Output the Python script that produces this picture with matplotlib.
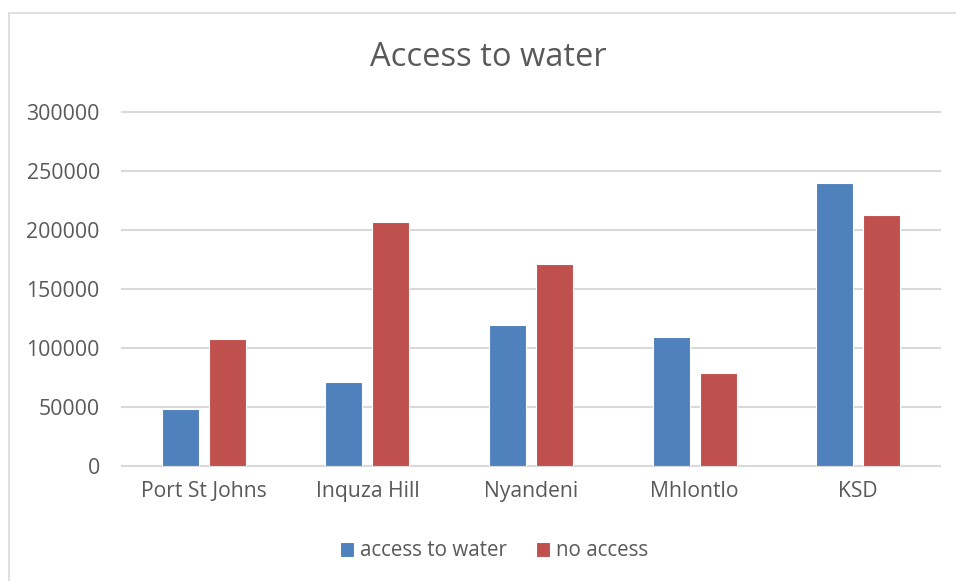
import numpy as np
import matplotlib
matplotlib.use("Agg")
import matplotlib.pyplot as plt
from matplotlib.patches import Rectangle

plt.rcParams['font.family'] = ['Open Sans', 'DejaVu Sans']

# municipalities and household counts
municipalities = ["Port St Johns", "Inquza Hill", "Nyandeni", "Mhlontlo", "KSD"]
access_to_water = [48500, 71500, 119500, 109500, 239500]
no_access = [108000, 207000, 171500, 79000, 212500]

blue = "#4F81BD"
red = "#C0504D"
txt = "#595959"
grid = "#D9D9D9"

fig = plt.figure(figsize=(9.56, 5.81), dpi=100)
ax = fig.add_axes([122/956, 1 - 466/581, (940 - 122)/956, (466 - 112)/581])

x = np.arange(len(municipalities))
w = 0.226
off = 0.144
b1 = ax.bar(x - off, access_to_water, w, color=blue, edgecolor="white", linewidth=0.8,
            label="access to water", zorder=3)
b2 = ax.bar(x + off, no_access, w, color=red, edgecolor="white", linewidth=0.8,
            label="no access", zorder=3)

ax.set_xlim(-0.5, len(municipalities) - 0.5)
ax.set_ylim(0, 300000)
ax.set_yticks(np.arange(0, 300001, 50000))
ax.set_xticks(x)
ax.set_xticklabels(municipalities)
ax.yaxis.grid(True, color=grid, linewidth=1.5, zorder=0)
ax.set_axisbelow(True)
for s in ax.spines.values():
    s.set_visible(False)
ax.tick_params(axis="y", length=0, pad=16, labelsize=15.3, labelcolor=txt)
ax.tick_params(axis="x", length=0, pad=11, labelsize=15.2, labelcolor=txt)
for gl in ax.get_ygridlines():
    gl.set_clip_on(False)

fig.text(488/956, 1 - 57/581, "Access to water", ha="center", va="center",
         fontsize=23.5, color=txt)

fig.legend(handles=[b1, b2], loc="center", bbox_to_anchor=(494/956, 1 - 551/581),
           ncol=2, frameon=False, fontsize=14.8, labelcolor=txt,
           handlelength=0.7, handleheight=0.7, handletextpad=0.3, columnspacing=1.4)

# chart area border
fig.patches.append(Rectangle((8.5/956, -0.1), 1.2, 1 - 13/581 + 0.1,
                             transform=fig.transFigure, fill=False,
                             edgecolor=grid, linewidth=1.2))

fig.savefig("out.png", dpi=100)
